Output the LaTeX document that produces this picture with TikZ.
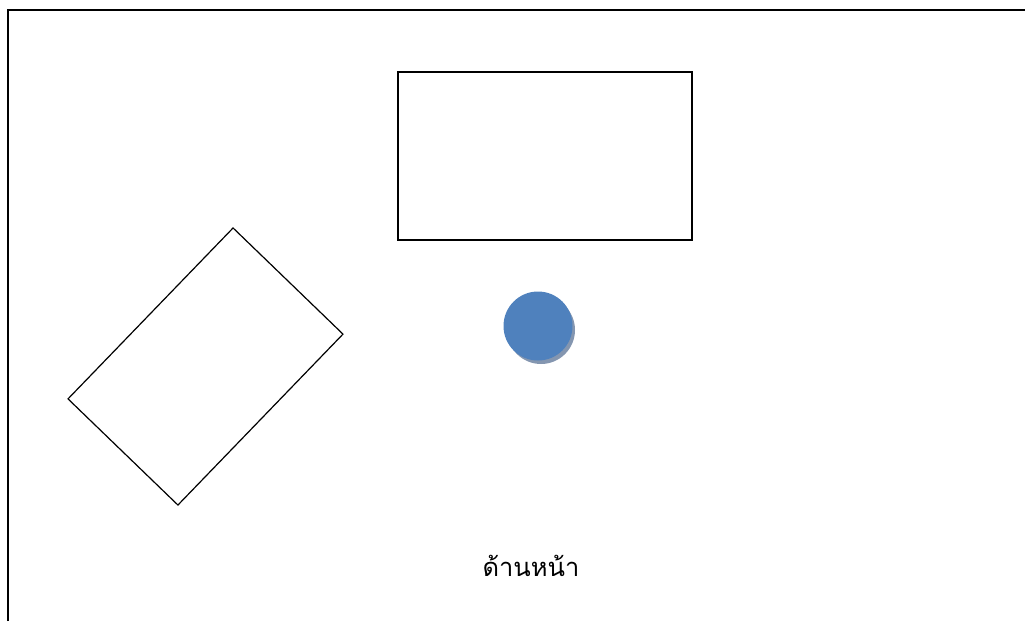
\documentclass[tikz,border=0pt]{standalone}
\usepackage{fontspec}
\newfontfamily\thaifont[Script=Thai]{Loma}
\usetikzlibrary{positioning}
\definecolor{seatblue}{RGB}{79,129,189}
\definecolor{seatshadow}{RGB}{132,150,176}
\begin{document}
\begin{tikzpicture}[x=1pt, y=-1pt, thick,
    box/.style={draw, line width=1.2pt, minimum width=#1, inner sep=0pt},
    label/.style={font=\thaifont\fontsize{25.5}{30}\selectfont}]
    \useasboundingbox (0,0) rectangle (1025,621);
    % Frame
    \coordinate (fb) at (8,621);
    \coordinate (fc) at (8,10);
    \coordinate (fr) at (1025,10);
    \draw[line width=2pt] (fb) -- (fc) -- (fr);
    % Table
    \node[box=294pt, minimum height=168pt] (table) at (545,156) {};
    % Tilted table
    \node[box=237.6pt, minimum height=152.8pt, rotate=46] (desk) at (205.5,366.5) {};
    % Seat
    \fill[seatshadow] (541,330) circle (34);
    \node[circle, fill=seatblue, minimum size=69pt, inner sep=0pt] (seat) at (538,326) {};
    % Front
    \node[label] (front) at (531,566) {ด้านหน้า};
\end{tikzpicture}
\end{document}
